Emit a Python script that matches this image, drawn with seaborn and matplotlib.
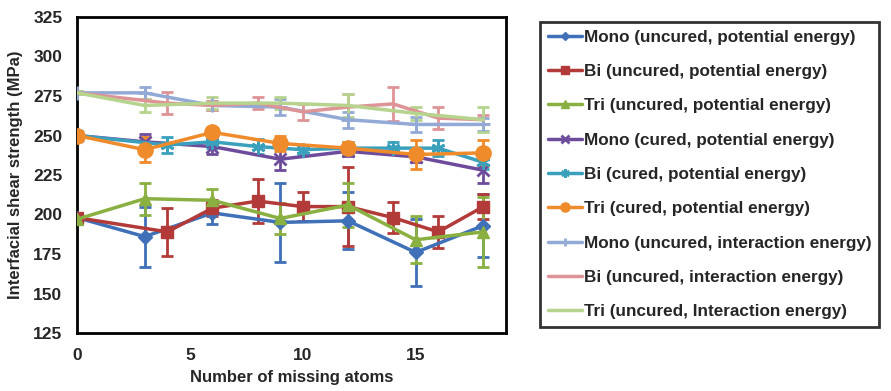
import numpy as np
import pandas as pd
import matplotlib
matplotlib.use("Agg")
import matplotlib.pyplot as plt
import seaborn as sns

# ---------------- data ----------------
labels = [
    "Mono (uncured, potential energy)",
    "Bi (uncured, potential energy)",
    "Tri (uncured, potential energy)",
    "Mono (cured, potential energy)",
    "Bi (cured, potential energy)",
    "Tri (cured, potential energy)",
    "Mono (uncured, interaction energy)",
    "Bi (uncured, interaction energy)",
    "Tri (uncured, Interaction energy)",
]

x_mono = [0, 3, 6, 9, 12, 15, 18]
x_bi = [0, 4, 6, 8, 10, 12, 14, 16, 18]
x_tri = [0, 3, 6, 9, 12, 15, 18]

mono_unc_pot = [198, 186, 201, 195, 196, 176, 193]
mono_unc_pot_err = [2, 19, 7, 25, 18, 21, 20]
bi_unc_pot = [198, 189, 204, 208.5, 205, 205, 198, 189, 205]
bi_unc_pot_err = [3, 15, 5, 14, 9, 25, 10, 10, 8]
tri_unc_pot = [197, 210, 209, 197.5, 206, 184, 189]
tri_unc_pot_err = [2, 10, 7, 10, 14, 15, 22]

mono_cur_pot = [250, 246, 243, 235, 240, 236.5, 228]
mono_cur_pot_err = [2, 5, 5, 7, 3, 3, 8]
bi_cur_pot = [250, 244, 246, 243, 241, 242, 242, 242, 233]
bi_cur_pot_err = [2, 5, 4, 5, 3, 4, 4, 5, 4]
tri_cur_pot = [250, 241, 252, 245, 242, 238, 239]
tri_cur_pot_err = [2, 8, 3, 5, 4, 9, 8]

mono_unc_int = [277, 277, 269, 268, 260, 257, 257]
mono_unc_int_err = [1, 4, 3, 5, 5, 5, 4]
bi_unc_int = [277, 270.5, 269, 270.5, 265, 268, 270, 261, 260]
bi_unc_int_err = [1, 7, 3, 4, 5, 8, 11, 7, 3]
tri_unc_int = [277, 269, 270.5, 270.5, 269, 264, 260]
tri_unc_int_err = [1, 4, 4, 4, 7, 4, 8]

series = [
    (x_mono, mono_unc_pot, mono_unc_pot_err),
    (x_bi, bi_unc_pot, bi_unc_pot_err),
    (x_tri, tri_unc_pot, tri_unc_pot_err),
    (x_mono, mono_cur_pot, mono_cur_pot_err),
    (x_bi, bi_cur_pot, bi_cur_pot_err),
    (x_tri, tri_cur_pot, tri_cur_pot_err),
    (x_mono, mono_unc_int, mono_unc_int_err),
    (x_bi, bi_unc_int, bi_unc_int_err),
    (x_tri, tri_unc_int, tri_unc_int_err),
]

colors = ["#3F70B8", "#B23A38", "#8AB042", "#6E4C9C", "#3AA0BC",
          "#F08B2C", "#93AAD6", "#DE9496", "#B6D48E"]
markers = ["D", "s", "^", "x", (6, 2, 0), "o", "+", "", ""]
msizes = [7, 9, 9, 9, 10, 11, 10, 0, 0]

# ---------------- style ----------------
sns.set_style("white")
plt.rcParams["font.family"] = ["Liberation Sans", "DejaVu Sans"]
plt.rcParams["font.weight"] = "bold"

rows = []
for lab, (xs, ys, es) in zip(labels, series):
    for xv, yv, ev in zip(xs, ys, es):
        rows.append({"series": lab, "x": xv, "y": yv, "err": ev})
df = pd.DataFrame(rows)

fig = plt.figure(figsize=(8.91, 3.91), dpi=100)
ax = fig.add_axes([77 / 891, 58 / 391, 429 / 891, 316 / 391])

# error bars first
for lab, col in zip(labels, colors):
    d = df[df["series"] == lab]
    ax.errorbar(d["x"], d["y"], yerr=d["err"], fmt="none", ecolor=col,
                elinewidth=2, capsize=4, capthick=2, zorder=2)

for i, (lab, col) in enumerate(zip(labels, colors)):
    d = df[df["series"] == lab]
    mk = markers[i] if markers[i] != "" else None
    sns.lineplot(data=d, x="x", y="y", ax=ax, color=col, linewidth=2.5,
                 marker=mk, markersize=msizes[i], markeredgecolor=col,
                 markeredgewidth=2 if markers[i] in ("x", "+", (6, 2, 0)) else 1,
                 label=lab, legend=True, zorder=3, sort=False)

ax.set_xlim(0, 19)
ax.set_ylim(125, 325)
ax.set_xticks([0, 5, 10, 15])
ax.set_yticks(np.arange(125, 326, 25))
ax.tick_params(axis="y", labelsize=12.5, length=0, pad=10.5)
ax.tick_params(axis="x", labelsize=12.5, length=0, pad=11)
for t in ax.get_xticklabels() + ax.get_yticklabels():
    t.set_fontweight("bold")
for s in ax.spines.values():
    s.set_color("black")
    s.set_linewidth(2)
ax.set_xlabel("Number of missing atoms", fontsize=12, fontweight="bold", labelpad=5)
ax.set_ylabel("Interfacial shear strength (MPa)", fontsize=12, fontweight="bold", labelpad=7)

handles, labs = ax.get_legend_handles_labels()
ax.get_legend().remove()
leg = fig.legend(handles, labs, loc="upper left",
                 bbox_to_anchor=(540 / 891, 1 - 22 / 391),
                 prop={"size": 12.3, "weight": "bold"}, frameon=True,
                 fancybox=False, edgecolor="black", handlelength=2.0,
                 handletextpad=0.1, labelspacing=1.13, markerscale=0.6,
                 borderpad=0.45, borderaxespad=0)
leg.get_frame().set_linewidth(2)

fig.savefig("out.png", dpi=100)
